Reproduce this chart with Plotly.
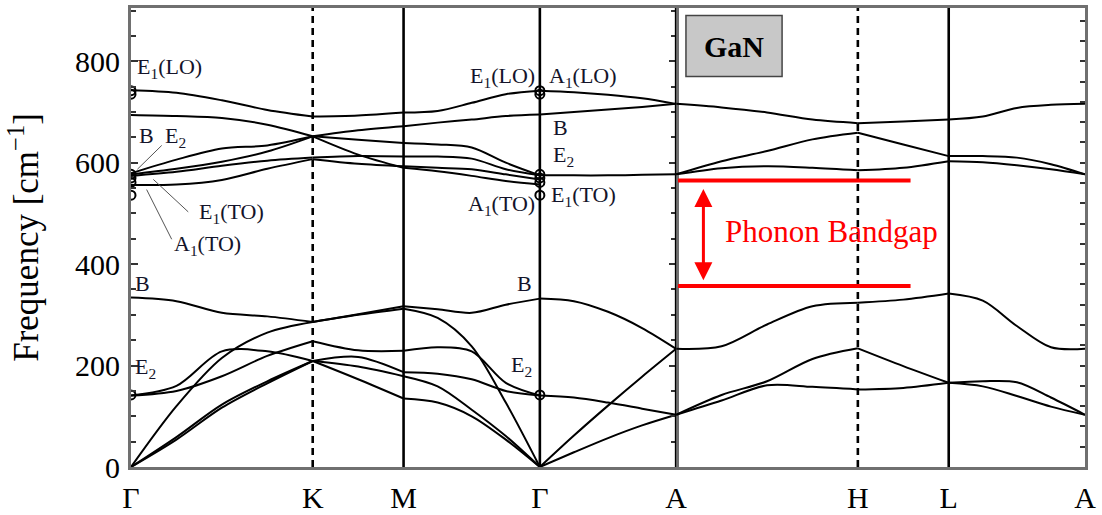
import plotly.graph_objects as go

SERIF = "Liberation Serif"

# High-symmetry points along the Brillouin-zone path (path coordinate q)
SYM_LABELS = ["Γ", "K", "M", "Γ", "A", "H", "L", "A"]
SYM_Q = [0.0, 1.0, 1.5, 2.25, 3.0, 4.0, 4.5, 5.25]
DASHED_AT = [1, 5]  # K and H

# Sample fractions inside a path segment
FRAC_LONG = [0.0, 0.25, 0.5, 0.75, 1.0]
FRAC_SHORT = [0.0, 0.5, 1.0]

# Phonon frequencies (cm^-1) of every branch at the sample points of each segment
BANDS_GK = [
    [743, 738, 723, 704, 691],
    [694, 692, 688, 675, 652],
    [579, 606, 628, 634, 652],
    [577, 588, 602, 622, 652],
    [574, 582, 594, 604, 610],
    [556, 557, 566, 588, 607],
    [334, 327, 304, 297, 286],
    [141, 160, 228, 228, 209],
    [141, 150, 179, 219, 248],
    [0, 120, 215, 265, 286],
    [0, 59, 123, 169, 209],
    [0, 54, 117, 165, 209],
]
BANDS_KM = [
    [691, 693, 699],
    [652, 664, 672],
    [652, 645, 639],
    [652, 616, 590],
    [610, 613, 612],
    [607, 598, 593],
    [286, 301, 317],
    [286, 300, 312],
    [248, 230, 229],
    [209, 217, 187],
    [209, 198, 179],
    [209, 173, 135],
]
BANDS_MG = [
    [699, 702, 718, 735, 742],
    [672, 679, 685, 692, 695],
    [639, 636, 630, 600, 575],
    [612, 612, 608, 587, 575],
    [593, 590, 587, 577, 567],
    [590, 583, 574, 564, 557],
    [317, 311, 304, 320, 332],
    [312, 294, 238, 127, 0],
    [229, 236, 228, 166, 141],
    [187, 184, 173, 150, 141],
    [179, 159, 113, 61, 0],
    [135, 127, 100, 54, 0],
]
BANDS_GA = [
    [742, 739, 734, 727, 716],
    [695, 700, 705, 710, 716],
    [575, 575, 575, 576, 577],
    [332, 327, 306, 274, 233],
    [141, 137, 127, 115, 103],
    [0, 62, 121, 178, 233],
    [0, 29, 57, 82, 103],
]
BANDS_AH = [
    [716, 709, 699, 685, 678],
    [577, 603, 623, 646, 659],
    [577, 589, 593, 590, 585],
    [233, 238, 281, 317, 324],
    [103, 142, 169, 213, 234],
    [103, 131, 161, 158, 153],
]
BANDS_HL = [
    [678, 681, 685],
    [659, 636, 613],
    [585, 590, 603],
    [324, 330, 342],
    [234, 199, 166],
    [153, 156, 166],
]
BANDS_LA = [
    [685, 691, 708, 714, 716],
    [613, 613, 610, 597, 577],
    [603, 601, 595, 587, 577],
    [342, 328, 278, 236, 233],
    [166, 169, 167, 137, 103],
    [166, 159, 140, 119, 103],
]

SEGMENTS = [
    (0, 1, FRAC_LONG, BANDS_GK),
    (1, 2, FRAC_SHORT, BANDS_KM),
    (2, 3, FRAC_LONG, BANDS_MG),
    (3, 4, FRAC_LONG, BANDS_GA),
    (4, 5, FRAC_LONG, BANDS_AH),
    (5, 6, FRAC_SHORT, BANDS_HL),
    (6, 7, FRAC_LONG, BANDS_LA),
]

# Measured zone-centre modes (cm^-1), marked at both Γ points
GAMMA_EXP = [742, 735, 577, 570, 561, 536, 142]

# Phonon band gap limits (cm^-1)
GAP_LOW, GAP_HIGH = 357, 565

Y_MAX = 905
SPLIT = (SYM_Q[4] - SYM_Q[0]) / (SYM_Q[-1] - SYM_Q[0])

fig = go.Figure()

for i0, i1, frac, bands in SEGMENTS:
    q0, q1 = SYM_Q[i0], SYM_Q[i1]
    right = q0 >= SYM_Q[4]
    xs, ys = [], []
    for b in bands:
        xs += [q0 + f * (q1 - q0) for f in frac] + [None]
        ys += list(b) + [None]
    fig.add_trace(go.Scatter(
        x=xs, y=ys, mode="lines",
        line=dict(color="black", width=2, shape="spline", smoothing=0.9),
        xaxis="x2" if right else "x", yaxis="y2" if right else "y",
        hoverinfo="skip", showlegend=False,
    ))

# zone-centre markers
fig.add_trace(go.Scatter(
    x=[SYM_Q[0]] * len(GAMMA_EXP) + [SYM_Q[3]] * len(GAMMA_EXP),
    y=GAMMA_EXP + GAMMA_EXP,
    mode="markers",
    marker=dict(symbol="circle-open", size=9, color="black", line=dict(width=2)),
    hoverinfo="skip", showlegend=False,
))

# thin leader lines from the Γ labels to their modes
LEADERS = [
    ((0.035, 587), (0.169, 634)),
    ((0.123, 567), (0.315, 503)),
    ((0.086, 547), (0.224, 449)),
]
for (xa, ya), (xb, yb) in LEADERS:
    fig.add_trace(go.Scatter(
        x=[xa, xb], y=[ya, yb], mode="lines",
        line=dict(color="#555", width=1), hoverinfo="skip", showlegend=False,
    ))

shapes = []
# vertical lines at the interior high-symmetry points
for i in range(1, len(SYM_Q) - 1):
    q = SYM_Q[i]
    shapes.append(dict(
        type="line", xref="x2" if q > SYM_Q[4] else "x", yref="paper",
        x0=q, x1=q, y0=0, y1=1, layer="above",
        line=dict(color="black", width=2.6, dash="7px,5px" if i in DASHED_AT else "solid"),
    ))

# band gap edges
for g in (GAP_HIGH, GAP_LOW):
    shapes.append(dict(
        type="line", xref="x2", yref="y2", x0=3.01, x1=4.29, y0=g, y1=g,
        line=dict(color="red", width=4), layer="above",
    ))

# material label box
shapes.append(dict(
    type="rect", xref="x2", yref="y2", x0=3.054, x1=3.583, y0=770, y1=890,
    fillcolor="#c8c8c8", line=dict(color="#444", width=1.5), layer="above",
))

LABEL_COLOR = "#14142a"
LABELS = [
    ("E<sub>1</sub>(LO)", 0.02, 787, "left"),
    ("B", 0.033, 654, "left"),
    ("E<sub>2</sub>", 0.176, 650, "left"),
    ("E<sub>1</sub>(TO)", 0.363, 500, "left"),
    ("A<sub>1</sub>(TO)", 0.225, 437, "left"),
    ("B", 0.012, 362, "left"),
    ("E<sub>2</sub>", 0.012, 196, "left"),
    ("E<sub>1</sub>(LO)", 2.234, 768, "right"),
    ("A<sub>1</sub>(LO)", 2.29, 768, "left"),
    ("B", 2.31, 669, "left"),
    ("E<sub>2</sub>", 2.31, 614, "left"),
    ("E<sub>1</sub>(TO)", 2.30, 534, "left"),
    ("A<sub>1</sub>(TO)", 2.234, 516, "right"),
    ("B", 2.215, 361, "right"),
    ("E<sub>2</sub>", 2.215, 200, "right"),
]

annotations = []
for text, q, f, anchor in LABELS:
    annotations.append(dict(
        text=text, x=q, y=f, xref="x", yref="y", xanchor=anchor, yanchor="middle",
        showarrow=False, font=dict(family=SERIF, size=22, color=LABEL_COLOR),
    ))

annotations.append(dict(
    text="<b>GaN</b>", x=3.318, y=830, xref="x2", yref="y2", showarrow=False,
    font=dict(family=SERIF, size=30, color="black"),
))
annotations.append(dict(
    text="Phonon Bandgap", x=3.26, y=465, xref="x2", yref="y2", xanchor="left",
    yanchor="middle", showarrow=False, font=dict(family=SERIF, size=31, color="red"),
))
annotations.append(dict(
    text="", x=3.15, y=GAP_LOW + 11, ax=3.15, ay=GAP_HIGH - 14,
    xref="x2", yref="y2", axref="x2", ayref="y2",
    showarrow=True, arrowhead=2, startarrowhead=2, arrowside="end+start",
    arrowwidth=3, arrowsize=1.2, startarrowsize=1.2, arrowcolor="red",
))

frame = dict(showline=True, linecolor="#707070", linewidth=3, showgrid=False,
             zeroline=False, automargin=False)
tickfont = dict(family=SERIF, size=30, color="black")

fig.update_layout(
    width=1102, height=515,
    margin=dict(l=131, r=17, t=8, b=48),
    paper_bgcolor="white", plot_bgcolor="white",
    showlegend=False,
    shapes=shapes, annotations=annotations,
    xaxis=dict(domain=[0, SPLIT], range=[SYM_Q[0], SYM_Q[4]],
               tickvals=SYM_Q[:5], ticktext=SYM_LABELS[:5], ticks="",
               tickfont=tickfont, ticklabelstandoff=2, mirror=True, **frame),
    xaxis2=dict(domain=[SPLIT, 1], range=[SYM_Q[4], SYM_Q[-1]], anchor="y2",
                tickvals=SYM_Q[5:], ticktext=SYM_LABELS[5:], ticks="",
                tickfont=tickfont, ticklabelstandoff=2, mirror=True, **frame),
    yaxis=dict(range=[0, Y_MAX], tick0=0, dtick=200, ticks="inside", ticklen=7,
               tickwidth=1.5, tickcolor="#333", mirror="ticks",
               minor=dict(dtick=50, ticks="inside", ticklen=5, tickwidth=1.5, tickcolor="#333"),
               tickfont=tickfont, ticklabelstandoff=2,
               title=dict(text="Frequency [cm<sup>−1</sup>]",
                          font=dict(family=SERIF, size=35, color="black"), standoff=26),
               **frame),
    yaxis2=dict(range=[0, Y_MAX], anchor="x2", side="right", tick0=0, dtick=40,
                ticks="inside", ticklen=5, tickwidth=1.5, tickcolor="#333",
                showticklabels=False, mirror=False, **frame),
)

fig.write_html("out.html")
